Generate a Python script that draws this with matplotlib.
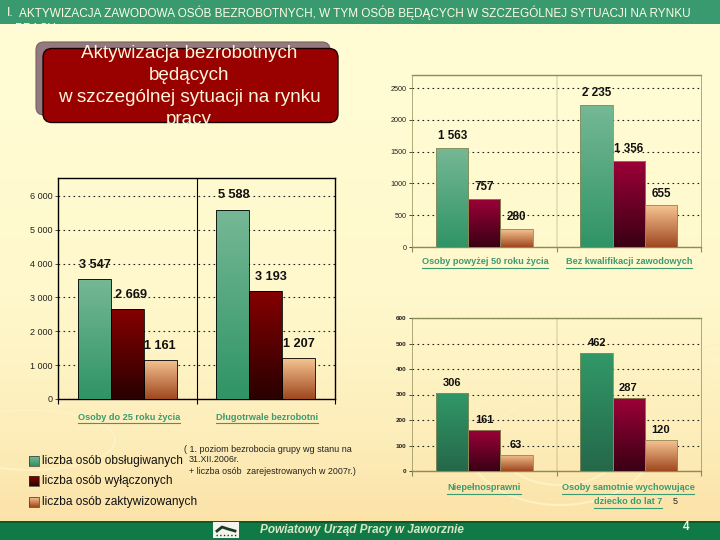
import numpy as np
import matplotlib
matplotlib.use('Agg')
import matplotlib.pyplot as plt
from matplotlib.colors import LinearSegmentedColormap
from matplotlib.patches import FancyBboxPatch, Rectangle, Ellipse

plt.rcParams['font.family'] = ['Liberation Sans', 'DejaVu Sans']

# data
groups_a = ['Osoby do 25 roku życia', 'Długotrwale bezrobotni']
obslugiwani_a = [3547, 5588]
wylaczeni_a = [2669, 3193]
zaktywizowani_a = [1161, 1207]
ticks_a = [0, 1000, 2000, 3000, 4000, 5000, 6000]
ticklabels_a = ['0', '1 000', '2 000', '3 000', '4 000', '5 000', '6 000']

groups_b = ['Osoby powyżej 50 roku życia', 'Bez kwalifikacji zawodowych']
obslugiwani_b = [1563, 2235]
wylaczeni_b = [757, 1356]
zaktywizowani_b = [280, 655]
ticks_b = [0, 500, 1000, 1500, 2000, 2500]

groups_c = ['Niepełnosprawni', 'Osoby samotnie wychowujące\ndziecko do lat 7']
obslugiwani_c = [306, 462]
wylaczeni_c = [161, 287]
zaktywizowani_c = [63, 120]
ticks_c = [0, 100, 200, 300, 400, 500, 600]

legend_labels = ['liczba osób obsługiwanych', 'liczba osób wyłączonych', 'liczba osób zaktywizowanych']

W, H = 720, 540
fig = plt.figure(figsize=(W / 100, H / 100), dpi=100)

# background in pixel coordinates
bg = fig.add_axes([0, 0, 1, 1])
bg.set_xlim(0, W)
bg.set_ylim(H, 0)
bg.axis('off')
bgmap = LinearSegmentedColormap.from_list('bg', [(0, '#fffdd6'), (0.55, '#fff8cc'), (0.8, '#fdeebb'), (1, '#fbe0a4')])
bg.imshow(np.linspace(0, 1, 256).reshape(-1, 1), cmap=bgmap, extent=(0, W, H, 0), aspect='auto', zorder=0)
for (cx, cy, w, h) in [(720, 365, 60, 40), (720, 365, 35, 22), (560, 440, 190, 130), (560, 440, 130, 90), (30, 440, 170, 60)]:
    bg.add_patch(Ellipse((cx, cy), w, h, fill=False, ec='#fdf2c4', lw=1.5, zorder=1))

bg.add_patch(Rectangle((0, 0), W, 23.5, fc='#399a70', ec='none', zorder=2))
bg.add_patch(Rectangle((0, 521), W, 19, fc='#0f7a45', ec='none', zorder=2))
bg.add_patch(Rectangle((0, 521), W, 2, fc='#0b5a2c', ec='none', zorder=2))

clip_head = Rectangle((0, 0), W, 23.5, transform=bg.transData)
bg.text(7, 13, 'I.', fontsize=9, color='#fffbe0', va='center', zorder=3)
bg.text(19, 13, 'AKTYWIZACJA ZAWODOWA OSÓB BEZROBOTNYCH, W TYM OSÓB BĘDĄCYCH W SZCZEGÓLNEJ SYTUACJI NA RYNKU',
        fontsize=8.5, color='#fffbe0', va='center', zorder=3)
t = bg.text(15, 29, 'PRACY', fontsize=8.5, color='#fffbe0', va='center', zorder=3)
t.set_clip_path(clip_head)

# title box
bg.add_patch(FancyBboxPatch((36, 42), 294, 73, boxstyle='round,pad=0,rounding_size=8', fc='#937a80', ec='#776065', lw=0.8, zorder=2))
box = FancyBboxPatch((43, 48.5), 295, 74, boxstyle='round,pad=0,rounding_size=9', fc='#990000', ec='#1a0000', lw=1, zorder=3)
bg.add_patch(box)
for txt, y in zip(['Aktywizacja bezrobotnych', 'będących', 'w szczególnej sytuacji na rynku', 'pracy'], [54, 76, 98, 120]):
    t = bg.text(189, y, txt, fontsize=13.6, color='#fdf6dc', ha='center', va='center', zorder=4)
    t.set_clip_path(box)


def grad(ax, bars, colors):
    cmap = LinearSegmentedColormap.from_list('g', colors)
    for b in bars:
        x0, w, h = b.get_x(), b.get_width(), b.get_height()
        im = ax.imshow(np.linspace(0, 1, 64).reshape(-1, 1), cmap=cmap, aspect='auto',
                       extent=(x0, x0 + w, 0, h), zorder=3)
        im.set_clip_path(b)
        b.set_facecolor('none')


def chart(rect, s1, s2, s3, ticks, ticklabels, ymax, framecol, c1, c2, c3, tickfont, tickweight, width):
    x0, x1, ytop, ybot = rect
    ax = fig.add_axes([x0 / W, 1 - ybot / H, (x1 - x0) / W, (ybot - ytop) / H])
    ax.patch.set_alpha(0)
    pos = np.arange(len(s1)) + 0.5
    for off, vals, col in [(-width, s1, c1), (0, s2, c2), (width, s3, c3)]:
        bars = ax.bar(pos + off, vals, width, edgecolor=framecol, linewidth=0.6, zorder=4)
        grad(ax, bars, col)
    ax.set_xlim(0, len(s1))
    ax.set_ylim(0, ymax)
    ax.set_xticks([0, 1, 2])
    ax.set_xticklabels([])
    ax.set_yticks(ticks)
    ax.set_yticklabels(ticklabels, fontsize=tickfont, fontweight=tickweight, color='#222222')
    ax.tick_params(axis='y', length=2.5, width=0.6, color='#333333', pad=1.5)
    ax.tick_params(axis='x', length=3.5, width=0.8, color=framecol, direction='out')
    ax.grid(axis='y', color='#222222', linestyle=(0, (1.5, 3)), linewidth=0.8, zorder=1)
    ax.set_axisbelow(True)
    black = framecol == 'black'
    for name, s in ax.spines.items():
        s.set_color(framecol)
        s.set_linewidth(1 if black or name in ('top', 'bottom') else 0.5)
    ax.axvline(1, color=framecol, lw=0.8 if black else 0.3, zorder=1)
    return ax


GREEN = ['#76b896', '#2f9466']
GREEN2 = ['#319868', '#25684a']
MAROON = ['#850000', '#2a0000']
RED = ['#9c0038', '#3a0014']
PEACH = ['#f6c492', '#a04820']

chart((58, 335, 178, 399), obslugiwani_a, wylaczeni_a, zaktywizowani_a, ticks_a, ticklabels_a, 6530,
      'black', GREEN, MAROON, PEACH, 6.5, 'normal', 0.238)
chart((412, 701, 75, 247), obslugiwani_b, wylaczeni_b, zaktywizowani_b, ticks_b, [str(v) for v in ticks_b], 2705,
      '#8c8c58', GREEN, RED, PEACH, 5.2, 'normal', 0.224)
chart((412, 701, 318, 471), obslugiwani_c, wylaczeni_c, zaktywizowani_c, ticks_c, [str(v) for v in ticks_c], 600,
      '#8c8c58', GREEN2, RED, PEACH, 4.6, 'bold', 0.224)

# value labels, hand placed like in the slide
spots_a = [(95, 265), (234, 195), (131, 295), (271, 277), (160, 346), (299, 344)]
spots_b = [(453, 136), (597, 93), (484, 187), (629, 149), (516, 217), (661, 194)]
spots_c = [(452, 383), (597, 343), (484, 420), (628, 388), (516, 445), (661, 430)]
vals_a = obslugiwani_a + wylaczeni_a + zaktywizowani_a
vals_b = obslugiwani_b + wylaczeni_b + zaktywizowani_b
vals_c = obslugiwani_c + wylaczeni_c + zaktywizowani_c
for vals, spots, fs in [(vals_a, spots_a, 9.2), (vals_b, spots_b, 8.4), (vals_c, spots_c, 8)]:
    for v, (x, y) in zip(vals, spots):
        s = f'{v:,}'.replace(',', ' ')
        bg.text(x, y, s, fontsize=fs, fontweight='bold', color='#111111', ha='center', va='center', zorder=6)


def underlined(x, y, txt, fs=6.6):
    t = bg.text(x, y, txt, fontsize=fs, color='#3c9a70', fontweight='bold', ha='center', va='center', zorder=6)
    fig.canvas.draw()
    ext = t.get_window_extent()
    bg.plot([ext.x0, ext.x1], [y + 6, y + 6], color='#3c9a70', lw=0.8, zorder=6)


underlined(129, 417, groups_a[0])
underlined(267, 417, groups_a[1])
underlined(485, 262, groups_b[0])
underlined(629, 262, groups_b[1])
underlined(484, 488, groups_c[0])
line1, line2 = groups_c[1].split('\n')
underlined(628, 488, line1)
underlined(628, 502, line2)

# legend
for lab, y, col in zip(legend_labels, [461, 481, 502], [GREEN, MAROON, PEACH]):
    bg.imshow(np.linspace(0, 1, 32).reshape(-1, 1), cmap=LinearSegmentedColormap.from_list('l', col), aspect='auto',
              extent=(29, 39, y + 5, y - 5), zorder=5)
    bg.add_patch(Rectangle((29, y - 5), 10, 10, fill=False, ec='#333333', lw=0.5, zorder=6))
    bg.text(42, y, lab, fontsize=8.6, color='#111111', va='center', zorder=6)
bg.set_xlim(0, W)
bg.set_ylim(H, 0)

bg.text(184, 450, '( 1. poziom bezrobocia grupy wg stanu na', fontsize=6.5, color='#222222', va='center', zorder=6)
bg.text(189, 460, '31.XII.2006r.', fontsize=6.4, color='#222222', va='center', zorder=6)
bg.text(189, 471, '+ liczba osób  zarejestrowanych w 2007r.)', fontsize=6.4, color='#222222', va='center', zorder=6)
bg.text(673, 501, '5', fontsize=6.5, color='#222222', va='center', zorder=6)

# footer
bg.add_patch(Rectangle((213, 522), 26, 16, fc='#f4f4ee', ec='none', zorder=5))
bg.plot([217, 222, 228, 235], [531, 527, 529, 531], color='#1c3a22', lw=2, zorder=6)
bg.plot([216, 236], [535, 535], color='#1c3a22', lw=1, linestyle=':', zorder=6)
bg.text(260, 530, 'Powiatowy Urząd Pracy w Jaworznie', fontsize=8.5, fontstyle='italic', fontweight='bold',
        color='#d8e6c8', va='center', zorder=6)
bg.text(686, 527, '4', fontsize=8.5, fontweight='bold', color='#f4f4e0', ha='center', va='center', zorder=6)

fig.savefig('out.png', dpi=100)
